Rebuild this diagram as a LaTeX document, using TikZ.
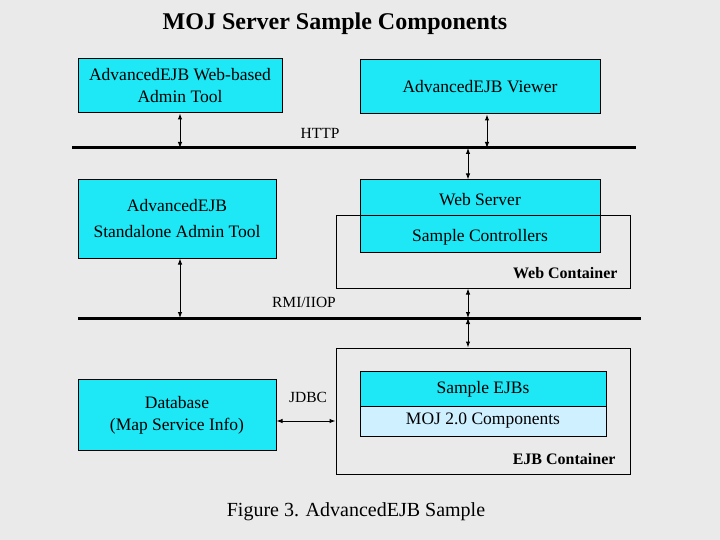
\documentclass[tikz,border=0pt]{standalone}
\usepackage{fontspec}
\setmainfont{Liberation Serif}
\usepackage{xcolor}
\usetikzlibrary{positioning,arrows.meta}
\definecolor{bgray}{RGB}{234,234,234}
\definecolor{ecyan}{RGB}{30,232,246}
\definecolor{elight}{RGB}{206,240,255}
\tikzset{
  comp/.style={draw, fill=ecyan, line width=1pt, inner sep=0pt, align=center,
               font=\fontsize{17.5}{22}\selectfont},
  cont/.style={draw, line width=1pt, inner sep=0pt},
  bus/.style={line width=3pt},
  link/.style={{Latex[length=6pt,width=4.5pt]}-{Latex[length=6pt,width=4.5pt]}, line width=1pt},
  lbl/.style={font=\fontsize{15.5}{17}\selectfont},
  clbl/.style={font=\bfseries\fontsize{16}{18}\selectfont, anchor=base east}
}
\begin{document}
\begin{tikzpicture}[x=1pt, y=-1pt]
      \fill [bgray] (0,0) rectangle (720,540);
      \useasboundingbox (0,0) rectangle (720,540);
      % title and caption
      \node [font=\bfseries\fontsize{24}{28}\selectfont] (title) at (335, 24) {MOJ Server Sample Components};
      \node [font=\fontsize{20}{23}\selectfont]          (cap)   at (356,512) {Figure 3. AdvancedEJB Sample};
      % buses
      \coordinate (httpl) at ( 72,148);  \coordinate (httpr) at (636,148);
      \coordinate (rmil)  at ( 78,318);  \coordinate (rmir)  at (641,318);
      \draw [bus] (httpl) -- (httpr);
      \draw [bus] (rmil) -- (rmir);
      \node [lbl]  (http) at (320,133) {HTTP};
      \node [lbl]  (rmi)  at (304,302) {RMI/IIOP};
      % top row
      \node [comp, minimum width=204pt, minimum height=54pt] (webadm) at (180, 86)
            {AdvancedEJB Web-based\\Admin Tool};
      \node [comp, minimum width=240pt, minimum height=54pt] (viewer) at (480, 87)
            {AdvancedEJB Viewer};
      % middle row
      \node [comp, minimum width=198pt, minimum height=78pt, font=\fontsize{17.5}{26}\selectfont] (stdadm) at (177,219)
            {AdvancedEJB\\Standalone Admin Tool};
      \node [comp, minimum width=240pt, minimum height=72pt] (websrv) at (480,216) {};
      \node                  (websrvt) at (480,200) {\fontsize{17.5}{20}\selectfont Web Server};
      \node                  (ctrlt)   at (480,237) {\fontsize{17.5}{20}\selectfont Sample Controllers};
      \node [cont, minimum width=294pt, minimum height=72pt] (webc) at (483,252) {};
      \node [clbl]           (webct)   at (621,278) {Web Container};
      % bottom row
      \node [cont, minimum width=294pt, minimum height=126pt] (ejbc) at (483,411) {};
      \node [comp, minimum width=246pt, minimum height=35pt] (ejbs) at (483,389) {Sample EJBs};
      \node [comp, fill=elight, minimum width=246pt, minimum height=30pt] (moj) at (483,421) {MOJ 2.0 Components};
      \node [clbl]           (ejbct)   at (619,464) {EJB Container};
      \node [comp, minimum width=198pt, minimum height=71pt] (db) at (177,415)
            {Database\\(Map Service Info)};
      \node [lbl]  (jdbc) at (308,397) {JDBC};
      % connectors
      \coordinate (wa) at (180,148);  \coordinate (vw) at (487,148);
      \coordinate (ws) at (468,148);  \coordinate (sa) at (180,318);
      \coordinate (wc) at (468,318);
      \draw [link] (webadm.south -| wa) -- (wa);
      \draw [link] (viewer.south -| vw) -- (vw);
      \draw [link] (ws) -- (websrv.north -| ws);
      \draw [link] (stdadm.south -| sa) -- (sa);
      \draw [link] (webc.south -| wc) -- (wc);
      \draw [link] (wc) -- (ejbc.north -| wc);
      \draw [link] (db.east |- moj) -- (ejbc.west |- moj);
\end{tikzpicture}
\end{document}
